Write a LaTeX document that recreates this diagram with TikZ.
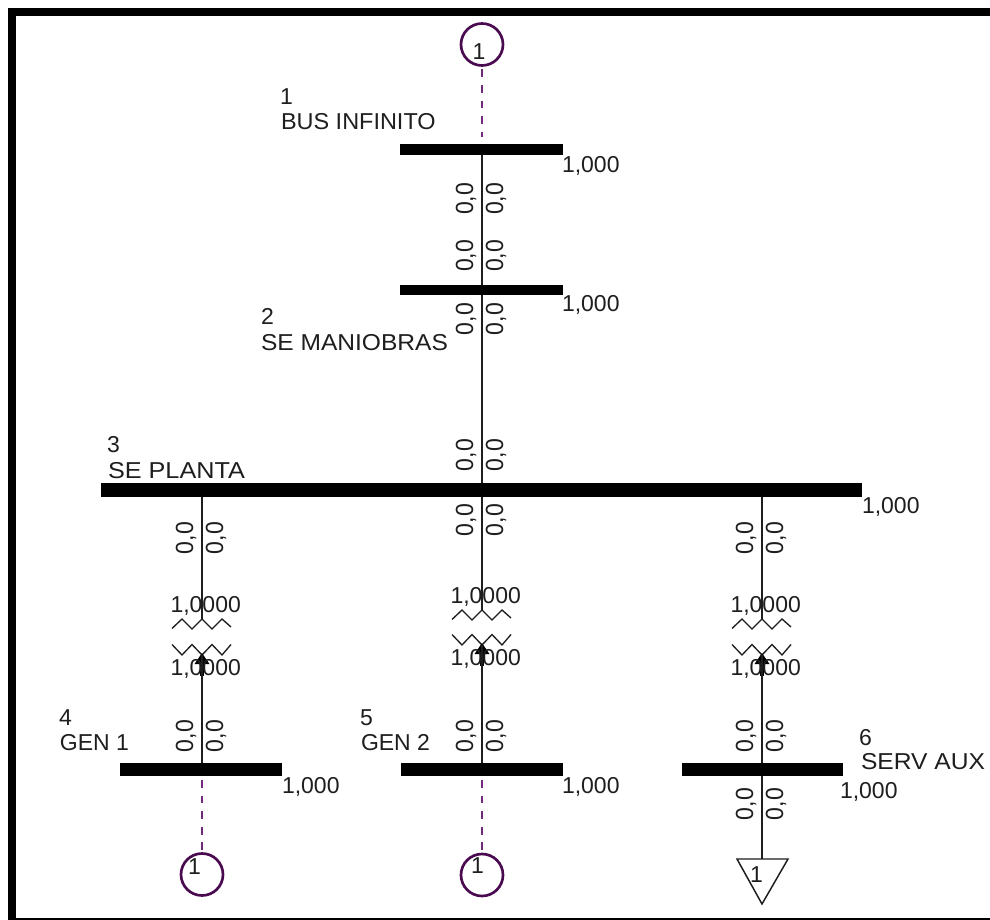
\documentclass[tikz,border=0pt]{standalone}
\usepackage{fontspec}
\setmainfont{Liberation Sans}
\definecolor{ink}{HTML}{1E1E1E}
\definecolor{genline}{HTML}{6E2A78}
\definecolor{genring}{HTML}{4A0A50}
\tikzset{
  lbl/.style={inner sep=0pt,outer sep=0pt,anchor=base west,text=ink,font=\fontsize{17.25pt}{20pt}\selectfont},
  vlbl/.style={inner sep=0pt,outer sep=0pt,anchor=base west,text=ink,font=\fontsize{18.6pt}{20pt}\selectfont,rotate=90,xscale=.93},
  busbar/.style={fill=black,draw=none,inner sep=0pt,outer sep=0pt,rectangle},
  wire/.style={draw=ink,line width=1.5pt},
  coil/.style={draw=ink,line width=1pt,line join=miter},
  genlink/.style={draw=genline,line width=1.5pt,dash pattern=on 5.8pt off 5.9pt},
  genc/.style={circle,draw=genring,line width=2pt,minimum size=31.5pt,inner sep=0pt,outer sep=0pt},
  frame/.style={fill=black,draw=none}
}
\newcommand{\busnode}[5]{% name, x1, x2, y1, y2
  \node[busbar,minimum width={(#3-#2)*0.75pt},minimum height={(#5-#4)*0.75pt}] (#1) at ({(#2+#3)/2},{(#4+#5)/2}) {};}
\newcommand{\coilset}[4]{% name, x, y of upper peak, y of lower peak
  \coordinate (#1up) at (#2,#3);
  \coordinate (#1dn) at (#2,#4);
  \draw[coil] (#2-30,#3+9.5) -- (#2-20,#3) -- (#2-10,#3+10) -- (#1up) -- (#2+10,#3+10) -- (#2+20,#3) -- (#2+29,#3+8);
  \draw[coil] (#2-30,#4-10.5) -- (#2-20,#4) -- (#2-10,#4-10.5) -- (#1dn) -- (#2+10,#4-10.5) -- (#2+20,#4) -- (#2+29,#4-10.5);
  \fill[black] (#2,#4-2) -- (#2+7.5,#4+9) -- (#2-7.5,#4+9) -- cycle;
  \fill[black] (#2-2.2,#4+8) rectangle (#2+2.2,#4+21);}
\begin{document}
\begin{tikzpicture}[x=0.75pt,y=-0.75pt]
\useasboundingbox (0,0) rectangle (990,920);
\fill[white] (0,0) rectangle (990,920);
\fill[frame] (8,8) rectangle (990,16);
\fill[frame] (8,8) rectangle (16,920);
\fill[frame] (8,918) rectangle (990,920);

% buses
\busnode{busA}{400}{563}{144}{155}
\busnode{busB}{400}{563}{285}{295}
\busnode{busC}{101}{862}{483}{497}
\busnode{busD}{120}{282}{763}{776}
\busnode{busE}{401}{563}{763}{776}
\busnode{busF}{682}{843}{763}{776}

% transformers
\coilset{tD}{202}{619}{655}
\coilset{tE}{482}{610}{645}
\coilset{tF}{762}{619}{655}

% sources
\node[genc] (genA) at (482,44.5) {};
\node[genc] (genD) at (202,874.5) {};
\node[genc] (genE) at (482,875) {};

% load
\coordinate (loadTop) at (762,859);
\draw[coil,line width=1.1pt] (737,859) -- (788,859) -- (762,904) -- cycle;

% connectors
\draw[wire] (genA |- busA.south) -- (genA |- busB.north);
\draw[wire] (genA |- busB.south) -- (genA |- busC.north);
\draw[wire] (tDup |- busC.south) -- (tDup);
\draw[wire] (tEup |- busC.south) -- (tEup);
\draw[wire] (tFup |- busC.south) -- (tFup);
\draw[wire] (tDdn) -- (tDdn |- busD.north);
\draw[wire] (tEdn) -- (tEdn |- busE.north);
\draw[wire] (tFdn) -- (tFdn |- busF.north);
\draw[wire] (tFdn |- busF.south) -- (loadTop);
\draw[genlink,shorten >=5pt,shorten <=3pt] (genA.south) -- (genA |- busA.north);
\draw[genlink,shorten <=3pt,shorten >=3pt] (tDdn |- busD.south) -- (genD.north);
\draw[genlink,shorten <=3pt,shorten >=3pt] (tEdn |- busE.south) -- (genE.north);

% bus names
\node[lbl] (n1) at (280,105) {1};
\node[lbl,xscale=1.02] (n1b) at (281,130) {BUS INFINITO};
\node[lbl] (n2) at (261,325) {2};
\node[lbl,xscale=1.068] (n2b) at (261,350) {SE MANIOBRAS};
\node[lbl] (n3) at (107,452) {3};
\node[lbl,xscale=1.097] (n3b) at (108,478) {SE PLANTA};
\node[lbl] (n4) at (59,725) {4};
\node[lbl] (n4b) at (60,750) {GEN 1};
\node[lbl] (n5) at (360,725) {5};
\node[lbl] (n5b) at (361,750) {GEN 2};
\node[lbl] (n6) at (859,745) {6};
\node[lbl,xscale=1.07] (n6b) at (861,769) {SERV AUX};

% voltages
\node[lbl] (v1) at (562,173) {1,000};
\node[lbl] (v2) at (562,312) {1,000};
\node[lbl] (v3) at (862,513) {1,000};
\node[lbl] (v4) at (282,793) {1,000};
\node[lbl] (v5) at (562,793) {1,000};
\node[lbl] (v6) at (840,798) {1,000};

% tap ratios
\node[lbl] (a1) at (170.5,612) {1,0000};
\node[lbl] (a2) at (450.5,603) {1,0000};
\node[lbl] (a3) at (730.5,612) {1,0000};
\node[lbl] (b1) at (170.5,675) {1,0000};
\node[lbl] (b2) at (450.5,665) {1,0000};
\node[lbl] (b3) at (730.5,675) {1,0000};

% impedances
\foreach \cx/\yy [count=\k] in {482/215,482/272,482/335,482/471,482/536,482/752,202/554,202/752,762/554,762/752,762/820}{
  \node[vlbl] (zl\k) at (\cx-9,\yy) {0,0};
  \node[vlbl] (zr\k) at (\cx+21,\yy) {0,0};
}

% source and load numbers
\node[lbl] (gA) at (472.5,60) {1};
\node[lbl] (gD) at (188,874) {1};
\node[lbl] (gE) at (471,873) {1};
\node[lbl] (lF) at (750,882) {1};
\end{tikzpicture}
\end{document}
